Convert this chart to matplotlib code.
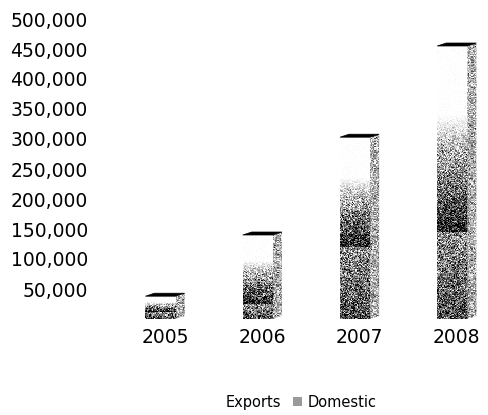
import matplotlib.pyplot as plt
import numpy as np
from matplotlib.patches import Polygon, Patch
from matplotlib.ticker import FuncFormatter

# Stacked totals per year (Domestic at the bottom, Exports on top)
years = ['2005', '2006', '2007', '2008']
domestic = [12000, 25000, 120000, 145000]
exports = [26000, 115000, 183000, 310000]
y_ticks = [50000, 100000, 150000, 200000, 250000, 300000,
           350000, 400000, 450000, 500000]

# pseudo-3D geometry (data units)
bar_w = 0.31
depth_x = 0.093
depth_y = 5000
px_per_unit = 30 / 50000  # vertical pixels per value unit

rng = np.random.default_rng(3)


def grainy(ax, x0, x1, y0, y1, shade, clip, grain=0.28):
    """Fill a box with a grainy grey ramp; `shade` maps 0..1 (bottom..top) to grey."""
    rows = max(int(round((y1 - y0) * px_per_unit)), 2)
    cols = max(int(round((x1 - x0) * 97.3)), 2)
    t = np.linspace(0, 1, rows)[:, None] * np.ones((1, cols))
    g = shade(t)
    noise = rng.normal(0, grain, (rows, cols))
    img = np.clip(g + noise * np.minimum(1, 3 * (1 - g) + 0.05), 0, 1)
    im = ax.imshow(img, cmap='gray', vmin=0, vmax=1, origin='lower',
                   extent=[x0, x1, y0, y1], interpolation='nearest',
                   aspect='auto', zorder=2)
    im.set_clip_path(clip)
    return im


fig = plt.figure(figsize=(4.89, 4.15), dpi=100)
ax = fig.add_axes([101.8 / 489, 96 / 415, 384.2 / 489, 312 / 415])

x = np.arange(len(years))
front_x = x - depth_x / 2

dom_bars = ax.bar(front_x, domestic, width=bar_w, color='none', edgecolor='none')
exp_bars = ax.bar(front_x, exports, width=bar_w, bottom=domestic,
                  color='none', edgecolor='none')

for i, (db, eb) in enumerate(zip(dom_bars, exp_bars)):
    left = db.get_x()
    right = left + bar_w
    total = domestic[i] + exports[i]

    # front face, domestic part: dark at the base, lighter upwards
    grainy(ax, left, right, 0, domestic[i],
           lambda t: 0.28 + 0.3 * t, db)
    # front face, exports part: dark band fading out to white
    grainy(ax, left, right, domestic[i], total,
           lambda t: np.clip(0.1 + t / 0.63 * 0.9, 0, 1), eb)

    # right side face
    side = Polygon([(right, 0), (right + depth_x, depth_y),
                    (right + depth_x, total + depth_y), (right, total)],
                   closed=True, facecolor='none', edgecolor='none')
    ax.add_patch(side)
    grainy(ax, right, right + depth_x, 0, total + depth_y,
           lambda t: 0.68 + 0 * t, side, grain=0.2)

    # top face
    top = Polygon([(left, total), (right, total),
                   (right + depth_x, total + depth_y),
                   (left + depth_x, total + depth_y)],
                  closed=True, facecolor='black', edgecolor='black',
                  linewidth=0.5, zorder=3)
    ax.add_patch(top)

ax.set_xlim(-0.65, 3.3)
ax.set_ylim(0, 520000)
ax.set_xticks(x)
ax.set_xticklabels(years, fontsize=13.5)
ax.set_yticks(y_ticks)
ax.yaxis.set_major_formatter(FuncFormatter(lambda v, p: f'{int(v):,}'))
ax.tick_params(axis='y', length=0, pad=10, labelsize=13.5)
ax.tick_params(axis='x', length=0, pad=6.5)
for s in ax.spines.values():
    s.set_visible(False)

handles = [Patch(facecolor='white', edgecolor='none', label='Exports'),
           Patch(facecolor='#9a9a9a', edgecolor='none', hatch='....',
                 label='Domestic')]
fig.legend(handles=handles, loc='center', ncol=2, frameon=False,
           bbox_to_anchor=(294 / 489, 1 - 402 / 415), fontsize=10.5,
           handlelength=0.6, handleheight=0.6, handletextpad=0.4,
           columnspacing=0.8, borderpad=0)

fig.savefig('out.png', dpi=100)
